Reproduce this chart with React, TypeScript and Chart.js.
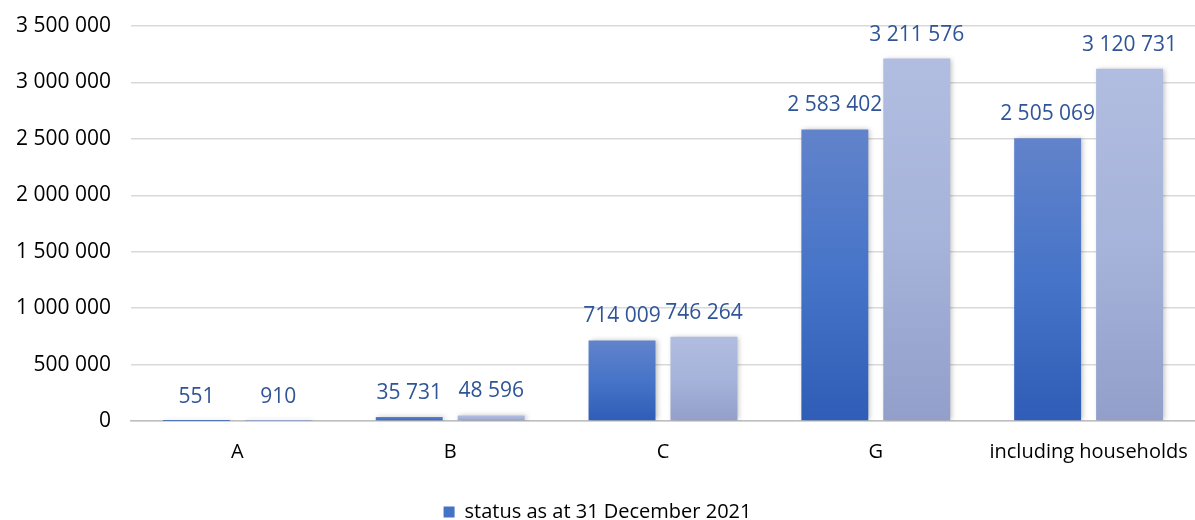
import React, { useEffect, useRef } from "react";
import { Chart, registerables } from "chart.js";

Chart.register(...registerables);

const categories = ["A", "B", "C", "G", "including households"];
const series2021 = [551, 35731, 714009, 2583402, 2505069];
const seriesOther = [910, 48596, 746264, 3211576, 3120731];
const seriesNames = ["status as at 31 December 2021", "status as at 31 December 2022"];
const yTicksMax = 3500000;
const yTickStep = 500000;

const FONT = "'Open Sans', 'DejaVu Sans', sans-serif";

function fmt(v: number): string {
  return String(Math.round(v)).replace(/\B(?=(\d{3})+(?!\d))/g, " ");
}

function barGradient(top: string, mid: string, bottom: string) {
  return (ctx: any) => {
    const chart = ctx.chart;
    const ys = chart.scales?.y;
    if (!ys || ctx.raw == null) return top;
    const yTop = ys.getPixelForValue(ctx.raw);
    const yBase = ys.getPixelForValue(0);
    if (!isFinite(yTop) || !isFinite(yBase) || Math.abs(yBase - yTop) < 1) return bottom;
    const g = chart.ctx.createLinearGradient(0, yTop, 0, yBase);
    g.addColorStop(0, top);
    g.addColorStop(0.5, mid);
    g.addColorStop(1, bottom);
    return g;
  };
}

const shadowPlugin = {
  id: "barShadow",
  beforeDatasetDraw(chart: any) {
    const c = chart.ctx;
    c.save();
    c.shadowColor = "rgba(0,0,0,0.25)";
    c.shadowBlur = 5;
    c.shadowOffsetX = 2;
    c.shadowOffsetY = 0;
  },
  afterDatasetDraw(chart: any) {
    chart.ctx.restore();
  },
};

const labelPlugin = {
  id: "valueLabels",
  afterDatasetsDraw(chart: any) {
    const c = chart.ctx;
    c.save();
    c.font = `21px ${FONT}`;
    c.fillStyle = "#2F5597";
    c.textAlign = "center";
    c.textBaseline = "middle";
    chart.data.datasets.forEach((ds: any, di: number) => {
      const meta = chart.getDatasetMeta(di);
      meta.data.forEach((el: any, i: number) => {
        c.fillText(fmt(ds.data[i]), el.x, el.y - 24);
      });
    });
    c.restore();
  },
};

export default function App() {
  const ref = useRef<HTMLCanvasElement | null>(null);
  useEffect(() => {
    document.body.style.margin = "0";
    const canvas = ref.current!;
    const chart = new Chart(canvas, {
      type: "bar",
      data: {
        labels: categories,
        datasets: [
          {
            label: seriesNames[0],
            data: series2021,
            backgroundColor: barGradient("#6283CB", "#4674C8", "#2F5DB7"),
            categoryPercentage: 0.77,
            barPercentage: 0.817,
          },
          {
            label: seriesNames[1],
            data: seriesOther,
            backgroundColor: barGradient("#B1BDE0", "#A6B3DA", "#919FCA"),
            categoryPercentage: 0.77,
            barPercentage: 0.817,
          },
        ],
      },
      options: {
        animation: false,
        responsive: false,
        maintainAspectRatio: false,
        layout: { padding: { top: 26, right: 0, left: 0, bottom: -12 } },
        plugins: {
          tooltip: { enabled: false },
          legend: {
            position: "bottom",
            labels: {
              boxWidth: 11,
              boxHeight: 11,
              padding: 19,
              color: "#000",
              font: { family: FONT, size: 20 },
              generateLabels: () => [
                {
                  text: seriesNames[0],
                  fillStyle: "#4472C4",
                  strokeStyle: "#4472C4",
                  lineWidth: 0,
                  datasetIndex: 0,
                  hidden: false,
                },
              ],
            },
          },
        },
        scales: {
          x: {
            afterFit: (s: any) => {
              s.paddingLeft = 0;
              s.paddingRight = 0;
            },
            grid: { display: false, drawTicks: false },
            border: { color: "#BFBFBF", width: 1.5 },
            ticks: { color: "#000", font: { family: FONT, size: 20 }, padding: 19 },
          },
          y: {
            min: 0,
            max: yTicksMax,
            afterFit: (s: any) => {
              s.width = 131;
              s.paddingTop = 0;
              s.paddingBottom = 0;
            },
            grid: { color: "#D9D9D9", lineWidth: 1.5, drawTicks: false },
            border: { display: false },
            ticks: {
              stepSize: yTickStep,
              color: "#000",
              padding: 20,
              font: { family: FONT, size: 21 },
              callback: (v: any) => fmt(Number(v)),
            },
          },
        },
      },
      plugins: [shadowPlugin, labelPlugin],
    });
    return () => chart.destroy();
  }, []);
  return <canvas ref={ref} width={1195} height={520} style={{ display: "block" }} />;
}
